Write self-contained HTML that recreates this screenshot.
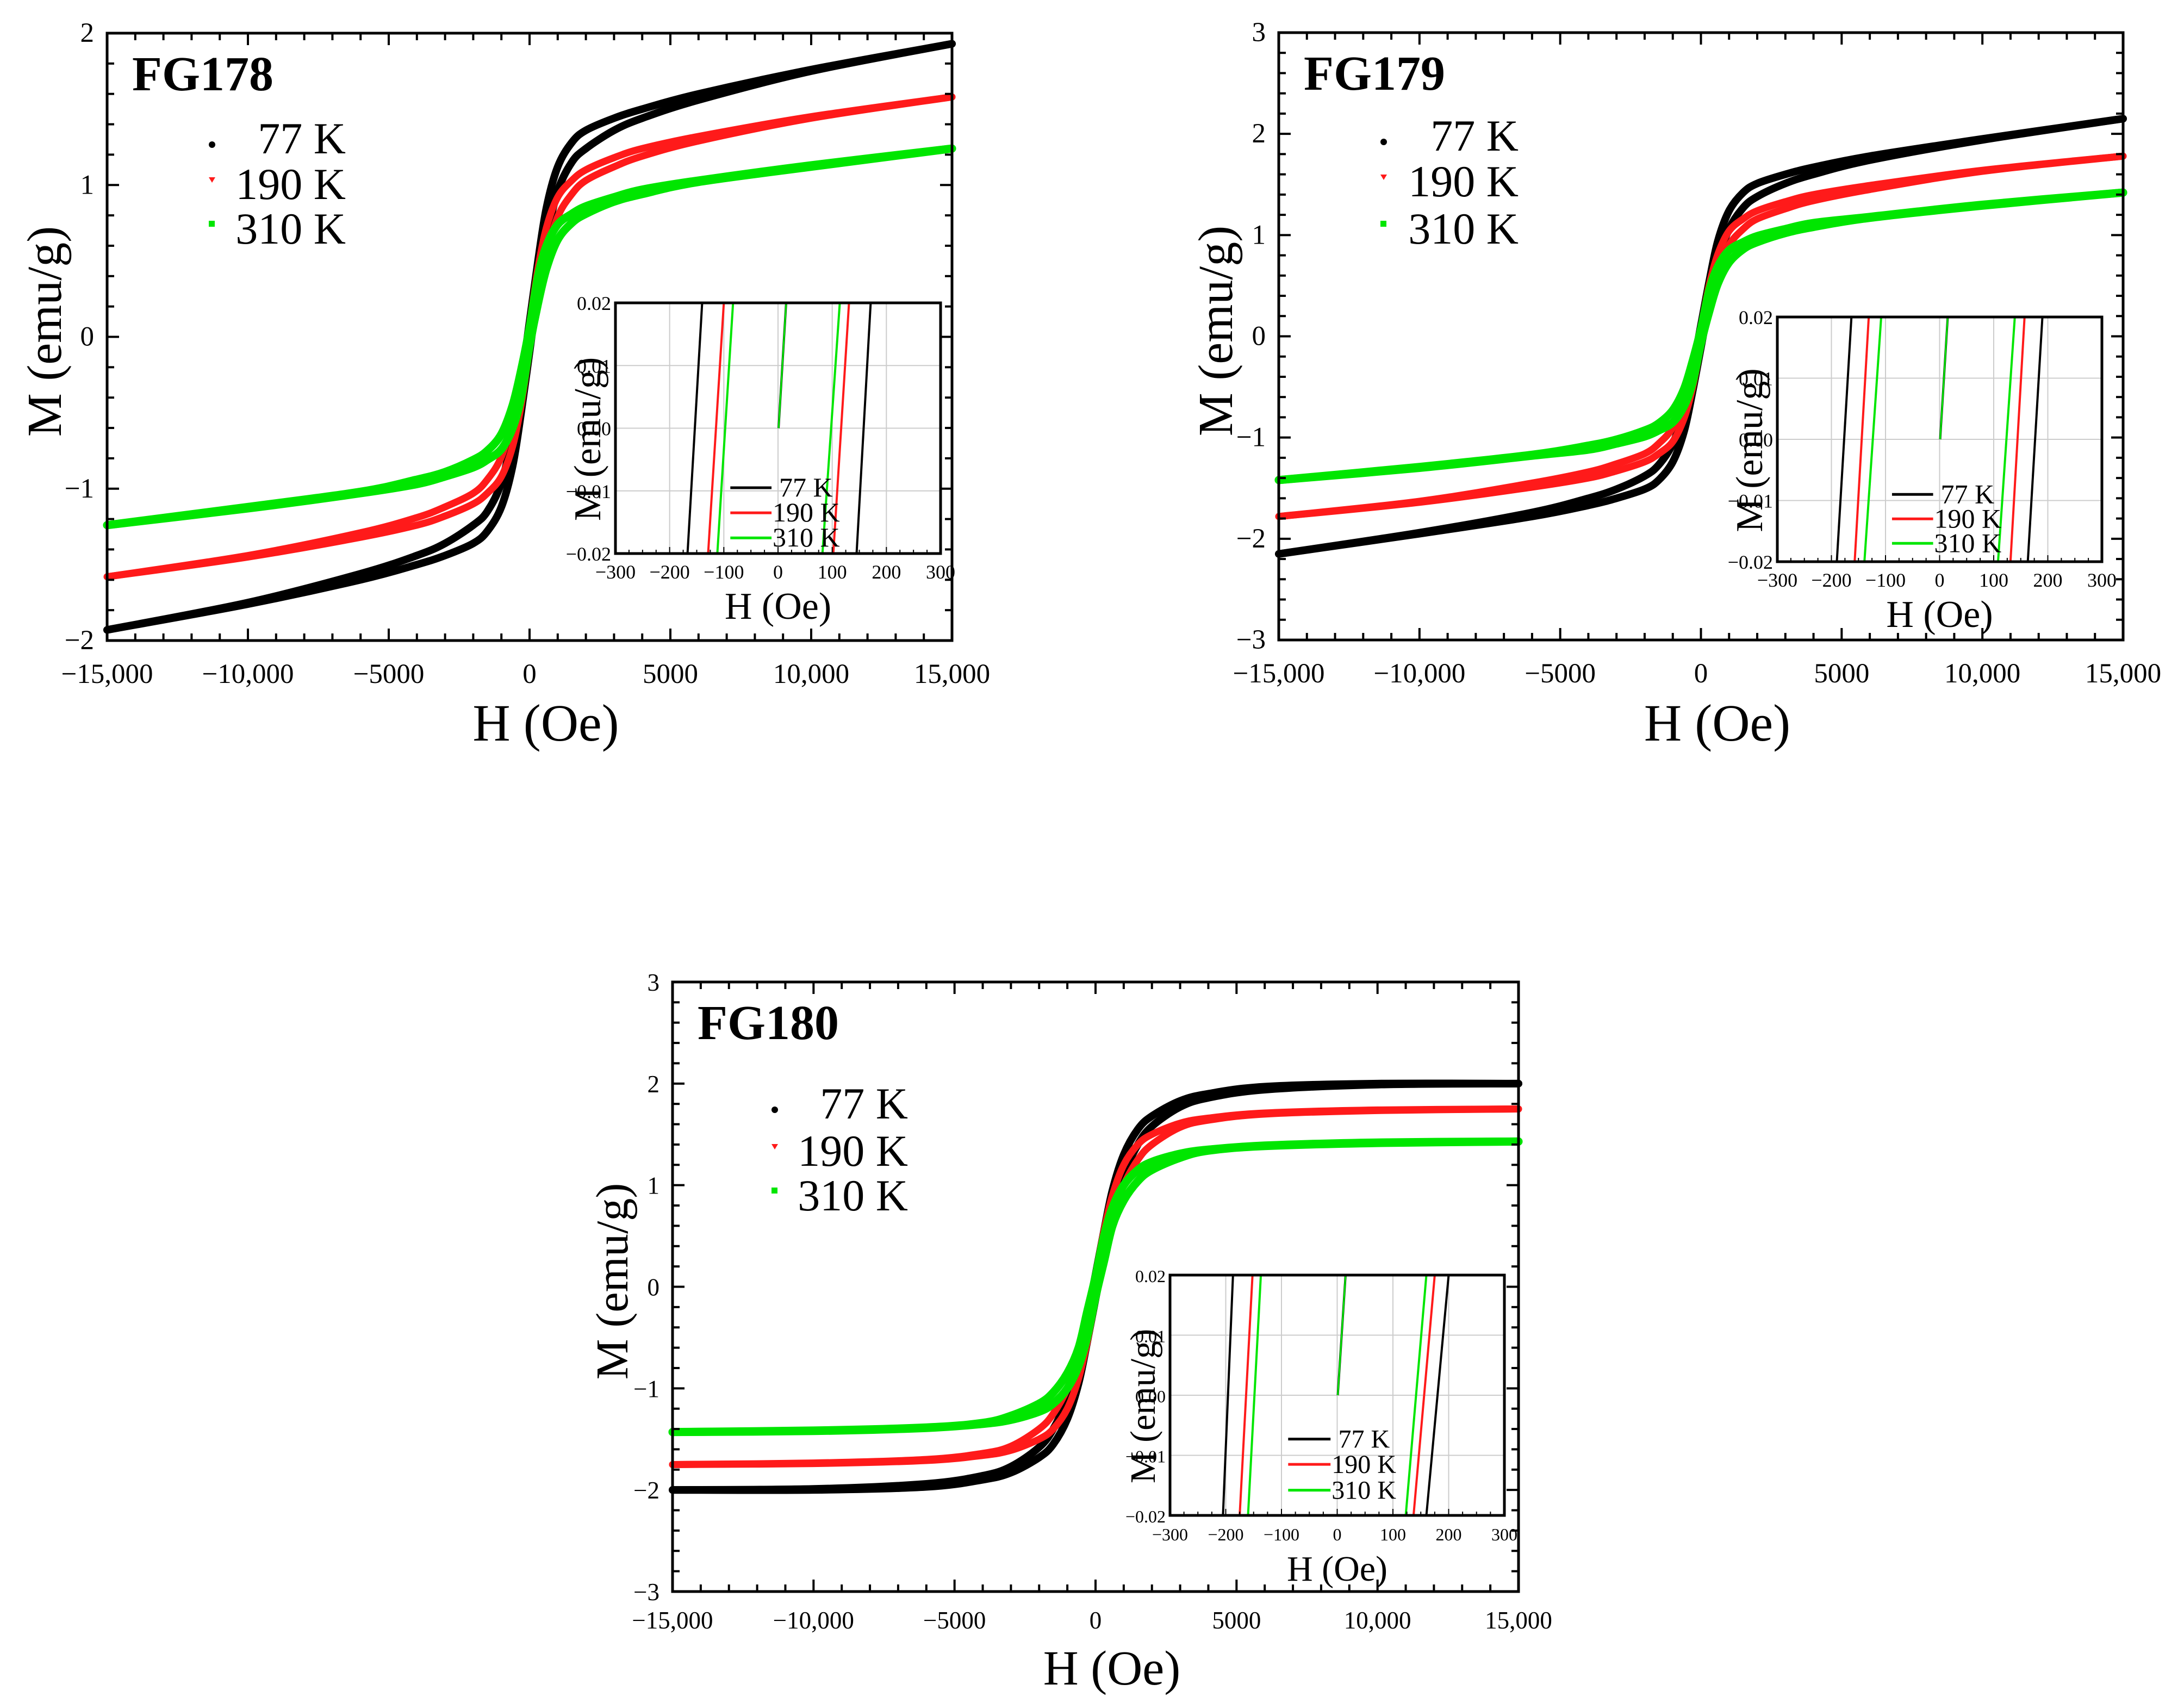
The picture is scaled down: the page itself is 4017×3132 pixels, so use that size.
<!DOCTYPE html>
<html><head><meta charset="utf-8"><style>
html,body{margin:0;padding:0;background:#fff;}
svg{display:block;font-family:"Liberation Serif",serif;}
</style></head><body>
<svg id="fig" width="4017" height="3132" viewBox="0 0 4017 3132" xmlns="http://www.w3.org/2000/svg"></svg>
<script>
// ---- data ----
const H_PTS = [15000,10000,6000,4000,3000,2000,1500,1000,600,300,0,-300,-600,-1000,-1500,-2000,-3000,-4000,-6000,-10000,-15000];
const FG178_77K  = [1.93,1.76,1.60,1.50,1.44,1.36,1.28,1.12,0.85,0.50,0.10,-0.30,-0.64,-0.96,-1.15,-1.24,-1.36,-1.44,-1.56,-1.75,-1.93];
const FG178_190K = [1.58,1.45,1.32,1.24,1.18,1.10,1.03,0.92,0.72,0.45,0.08,-0.25,-0.53,-0.79,-0.94,-1.03,-1.12,-1.19,-1.29,-1.44,-1.58];
const FG178_310K = [1.24,1.13,1.03,0.97,0.92,0.86,0.81,0.74,0.60,0.40,0.06,-0.22,-0.45,-0.64,-0.75,-0.81,-0.89,-0.94,-1.02,-1.12,-1.24];
const FG179_77K  = [2.15,1.95,1.78,1.67,1.60,1.51,1.42,1.24,0.94,0.55,0.11,-0.33,-0.73,-1.06,-1.27,-1.38,-1.51,-1.60,-1.74,-1.94,-2.15];
const FG179_190K = [1.78,1.64,1.49,1.40,1.33,1.24,1.16,1.04,0.81,0.51,0.09,-0.28,-0.62,-0.90,-1.06,-1.16,-1.26,-1.34,-1.45,-1.63,-1.78];
const FG179_310K = [1.42,1.30,1.18,1.12,1.06,0.99,0.93,0.85,0.69,0.46,0.07,-0.25,-0.52,-0.73,-0.86,-0.93,-1.02,-1.08,-1.17,-1.29,-1.42];
const FG180_77K  = [2.00,2.00,1.97,1.90,1.83,1.68,1.55,1.30,0.95,0.55,0.12,-0.30,-0.75,-1.10,-1.40,-1.58,-1.77,-1.86,-1.94,-1.99,-2.00];
const FG180_190K = [1.75,1.74,1.71,1.66,1.61,1.50,1.40,1.20,0.90,0.55,0.12,-0.28,-0.68,-1.00,-1.25,-1.40,-1.57,-1.64,-1.70,-1.735,-1.75];
const FG180_310K = [1.43,1.42,1.39,1.35,1.31,1.23,1.15,1.00,0.78,0.50,0.10,-0.25,-0.60,-0.85,-1.04,-1.15,-1.27,-1.34,-1.385,-1.415,-1.43];
const TEMPS = ["77 K","190 K","310 K"];
const MAIN_X_TICKS = [-15000,-10000,-5000,0,5000,10000,15000];
const MAIN_X_LABELS = ["\u221215,000","\u221210,000","\u22125000","0","5000","10,000","15,000"];
const INSET_X_TICKS = [-300,-200,-100,0,100,200,300];
const INSET_X_LABELS = ["\u2212300","\u2212200","\u2212100","0","100","200","300"];
const INSET_Y_TICKS = [0.02,0.01,0,-0.01,-0.02];
const INSET_Y_LABELS = ["0.02","0.01","0.00","\u22120.01","\u22120.02"];
// inset crossings (Oe) for 77/190/310 K
const I1_LEFT_TOP=[-140,-100,-83], I1_LEFT_BOT=[-167,-129,-112], I1_RIGHT_BOT=[145,102,82], I1_RIGHT_TOP=[171,131,114];
const I2_LEFT_TOP=[-163,-131,-108], I2_LEFT_BOT=[-190,-157,-139], I2_RIGHT_BOT=[163,131,108], I2_RIGHT_TOP=[190,157,139];
const I3_LEFT_TOP=[-187,-152,-137], I3_LEFT_BOT=[-205,-175,-160], I3_RIGHT_BOT=[160,137,123], I3_RIGHT_TOP=[200,175,160];
const VIRGIN_END = [15,12,8];

const COLORS=["#000000","#ff1a1a","#00e600"];
const NS="http://www.w3.org/2000/svg";
const svg=document.getElementById('fig');
function mk(tag,attrs,parent){const e=document.createElementNS(NS,tag);for(const k in attrs)e.setAttribute(k,attrs[k]);(parent||svg).appendChild(e);return e;}
function txt(s,attrs,parent){const e=mk('text',attrs,parent);e.textContent=s;return e;}
function smoothPath(pts){let d="M"+pts[0][0]+","+pts[0][1];for(let i=0;i<pts.length-1;i++){const p0=pts[Math.max(0,i-1)],p1=pts[i],p2=pts[i+1],p3=pts[Math.min(pts.length-1,i+2)];const c1=[p1[0]+(p2[0]-p0[0])/6,p1[1]+(p2[1]-p0[1])/6],c2=[p2[0]-(p3[0]-p1[0])/6,p2[1]-(p3[1]-p1[1])/6];d+=" C"+c1[0]+","+c1[1]+" "+c2[0]+","+c2[1]+" "+p2[0]+","+p2[1];}return d;}

function drawPlot(cfg){
  const g=mk('g',{});
  
  
  const {L,T,R,B,ymin,ymax}=cfg;
  const xs=h=>L+(h+15000)/30000*(R-L);
  const ys=m=>T+(ymax-m)/(ymax-ymin)*(B-T);
  cfg.series.forEach((vals,si)=>{
    const up=H_PTS.map((h,i)=>[xs(h),ys(vals[i])]);
    const lo=H_PTS.slice().reverse().map((h,i)=>[xs(-h),ys(-vals[H_PTS.length-1-i])]);
    const w=[14,13,15][si];
    const p1=mk('path',{d:smoothPath(up),fill:'none',stroke:COLORS[si],'stroke-width':w,'stroke-linecap':'round'},g);
    
    
    const p2=mk('path',{d:smoothPath(lo),fill:'none',stroke:COLORS[si],'stroke-width':w,'stroke-linecap':'round'},g);
    
    
  });
  const fr=mk('rect',{x:L,y:T,width:R-L,height:B-T,fill:'none',stroke:'#000','stroke-width':5},g);
  
  
  for(let h=-15000;h<=15000;h+=1000){const maj=h%5000===0;const len=maj?22:13;const x=xs(h);
    mk('line',{x1:x,y1:B,x2:x,y2:B-len,stroke:'#000','stroke-width':4},g);
    mk('line',{x1:x,y1:T,x2:x,y2:T+len,stroke:'#000','stroke-width':4},g);}
  MAIN_X_TICKS.forEach((h,i)=>{const t=txt(MAIN_X_LABELS[i],{x:xs(h),y:B+cfg.xlabOff,'font-size':cfg.tickFs,'text-anchor':'middle'},g);
    
    });
  const ystep=0.2;
  for(let m=ymin;m<=ymax+1e-9;m+=ystep){const maj=Math.abs(m-Math.round(m))<1e-6;const len=maj?22:13;const y=ys(m);
    mk('line',{x1:L,y1:y,x2:L+len,y2:y,stroke:'#000','stroke-width':4},g);
    mk('line',{x1:R,y1:y,x2:R-len,y2:y,stroke:'#000','stroke-width':4},g);}
  for(let m=ymin;m<=ymax;m++){const t=txt(m<0?"\u2212"+(-m):String(m),{x:L-24,y:ys(m)+16,'font-size':cfg.tickFs,'text-anchor':'end'},g);
    
    }
  const xt=txt("H (Oe)",{x:(L+R)/2+30,y:cfg.xTitleY,'font-size':cfg.titleFs,'text-anchor':'middle'},g);
  
  
  const yt=txt("M (emu/g)",{x:0,y:0,'font-size':cfg.titleFs-6,'text-anchor':'middle',transform:`translate(${cfg.yTitleX},${(T+B)/2-10}) rotate(-90)`},g);
  
  
  const st=txt(cfg.sample,{x:L+46,y:T+105,'font-size':90,'font-weight':'bold'},g);
  
  
  TEMPS.forEach((tname,i)=>{const y=cfg.legY[i];
    const mkr= i===0? mk('circle',{cx:cfg.legMx,cy:y-16,r:6,fill:COLORS[i]},g)
      : i===1? mk('path',{d:`M${cfg.legMx-6},${y-40} L${cfg.legMx+6},${y-40} L${cfg.legMx},${y-30} Z`,fill:COLORS[i]},g)
      : mk('rect',{x:cfg.legMx-6,y:y-42,width:11,height:11,fill:COLORS[i]},g);
    
    
    const t=txt(tname,{x:cfg.legTx,y:y,'font-size':cfg.legFs,'text-anchor':'end'},g);
    
    });
  const I=cfg.inset;
  const ig=mk('g',{},g);
  
  
  const ix=h=>I.L+(h+300)/600*(I.R-I.L);
  const iy=m=>I.T+(0.02-m)/0.04*(I.B-I.T);
  mk('rect',{x:I.L,y:I.T,width:I.R-I.L,height:I.B-I.T,fill:'#fff'},ig);
  INSET_X_TICKS.forEach(h=>mk('line',{x1:ix(h),y1:I.T,x2:ix(h),y2:I.B,stroke:'#ccc','stroke-width':2},ig));
  INSET_Y_TICKS.forEach(m=>mk('line',{x1:I.L,y1:iy(m),x2:I.R,y2:iy(m),stroke:'#ccc','stroke-width':2},ig));
  const cid='clip'+cfg.sample;
  const cp=mk('clipPath',{id:cid},ig);mk('rect',{x:I.L,y:I.T,width:I.R-I.L,height:I.B-I.T},cp);
  const cg=mk('g',{'clip-path':`url(#${cid})`},ig);
  for(let i=0;i<3;i++){
    const a=mk('line',{x1:ix(I.lt[i]),y1:iy(0.02),x2:ix(I.lb[i]),y2:iy(-0.02),stroke:COLORS[i],'stroke-width':4},cg);
    
    
    const b=mk('line',{x1:ix(I.rb[i]),y1:iy(-0.02),x2:ix(I.rt[i]),y2:iy(0.02),stroke:COLORS[i],'stroke-width':4},cg);
    
    
  }
  mk('line',{x1:ix(1),y1:iy(0),x2:ix(VIRGIN_END[0]),y2:iy(0.02),stroke:'#000','stroke-width':4},cg);
  mk('line',{x1:ix(1),y1:iy(0),x2:ix(VIRGIN_END[0]),y2:iy(0.02),stroke:'#00e600','stroke-width':3},cg);
  mk('rect',{x:I.L,y:I.T,width:I.R-I.L,height:I.B-I.T,fill:'none',stroke:'#000','stroke-width':5},ig);
  for(let h=-300;h<=300;h+=25){mk('line',{x1:ix(h),y1:I.B,x2:ix(h),y2:I.B-(h%100===0?12:7),stroke:'#000','stroke-width':2},ig);}
  INSET_X_TICKS.forEach((h,i)=>{const t=txt(INSET_X_LABELS[i],{x:ix(h),y:I.B+46,'font-size':I.fs,'text-anchor':'middle'},ig);
    
    });
  INSET_Y_TICKS.forEach((m,i)=>{const t=txt(INSET_Y_LABELS[i],{x:I.L-8,y:iy(m)+13,'font-size':I.fs,'text-anchor':'end'},ig);
    
    });
  const ixt=txt("H (Oe)",{x:(I.L+I.R)/2,y:I.B+120,'font-size':I.tfs,'text-anchor':'middle'},ig);
  
  
  const iyt=txt("M (emu/g)",{x:0,y:0,'font-size':I.tfs,'text-anchor':'middle',transform:`translate(${I.L-28},${(I.T+I.B)/2+20}) rotate(-90)`},ig);
  
  
  TEMPS.forEach((tname,i)=>{const y=iy(I.legY[i]);
    const l=mk('line',{x1:ix(-88),y1:y,x2:ix(-12),y2:y,stroke:COLORS[i],'stroke-width':5},ig);
    
    
    const t=txt(tname,{x:ix(i===0?2:-10),y:y+16,'font-size':I.lfs,'text-anchor':'start'},ig);
    
    });
}

drawPlot({name:'plot-fg178',sample:'FG178',L:197,T:61,R:1751,B:1178,ymin:-2,ymax:2,series:[FG178_77K,FG178_190K,FG178_310K],
  tickFs:51,titleFs:96,xlabOff:78,xTitleY:1362,yTitleX:112,legY:[282,366,448],legMx:390,legTx:636,legFs:82,
  inset:{L:1132,T:557,R:1730,B:1018,lt:I1_LEFT_TOP,lb:I1_LEFT_BOT,rb:I1_RIGHT_BOT,rt:I1_RIGHT_TOP,fs:36,tfs:70,lfs:50,legY:[-0.0095,-0.0135,-0.0175]}});
drawPlot({name:'plot-fg179',sample:'FG179',L:2352,T:60,R:3905,B:1177,ymin:-3,ymax:3,series:[FG179_77K,FG179_190K,FG179_310K],
  tickFs:51,titleFs:96,xlabOff:78,xTitleY:1362,yTitleX:2266,legY:[277,361,448],legMx:2545,legTx:2793,legFs:82,
  inset:{L:3269,T:583,R:3866,B:1033,lt:I2_LEFT_TOP,lb:I2_LEFT_BOT,rb:I2_RIGHT_BOT,rt:I2_RIGHT_TOP,fs:36,tfs:70,lfs:50,legY:[-0.009,-0.013,-0.017]}});
drawPlot({name:'plot-fg180',sample:'FG180',L:1237,T:1806,R:2793,B:2927,ymin:-3,ymax:3,series:[FG180_77K,FG180_190K,FG180_310K],
  tickFs:45,titleFs:90,xlabOff:68,xTitleY:3098,yTitleX:1154,legY:[2057,2144,2226],legMx:1425,legTx:1670,legFs:82,
  inset:{L:2152,T:2345,R:2767,B:2787,lt:I3_LEFT_TOP,lb:I3_LEFT_BOT,rb:I3_RIGHT_BOT,rt:I3_RIGHT_TOP,fs:32,tfs:66,lfs:48,legY:[-0.0073,-0.0115,-0.0158]}});
</script>
</body></html>
